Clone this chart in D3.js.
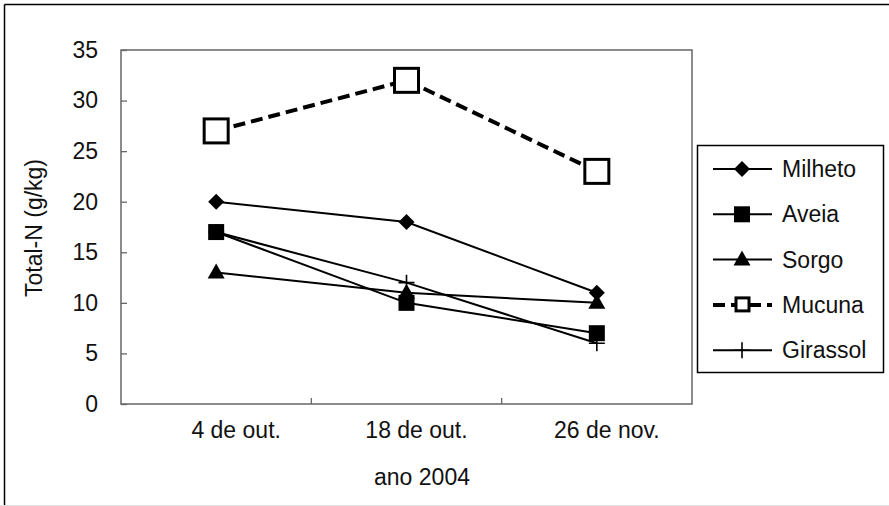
<!DOCTYPE html>
<html>
<head>
<meta charset="utf-8">
<script src="https://cdn.jsdelivr.net/npm/d3@7"></script>
<style>
  body { margin: 0; background: #fff; }
  svg { display: block; font-family: "Liberation Sans", Arial, sans-serif; }
</style>
</head>
<body>
<svg id="chart" width="889" height="506"></svg>
<script>
// dates of sampling (ano 2004)
var categories = ["4 de out.", "18 de out.", "26 de nov."];

// Total-N (g/kg) per cover crop
var milheto  = [20, 18, 11];
var aveia    = [17, 10, 7];
var sorgo    = [13, 11, 10];
var mucuna   = [27, 32, 23];
var girassol = [17, 12, 6];

var seriesNames = ["Milheto", "Aveia", "Sorgo", "Mucuna", "Girassol"];
var yTicks = [0, 5, 10, 15, 20, 25, 30, 35];

var series = [
  {name: seriesNames[0], values: milheto,  marker: "diamond"},
  {name: seriesNames[1], values: aveia,    marker: "square"},
  {name: seriesNames[2], values: sorgo,    marker: "triangle"},
  {name: seriesNames[3], values: mucuna,   marker: "open"},
  {name: seriesNames[4], values: girassol, marker: "plus"}
];

var fontSize = 23;
var plot = {left: 121, right: 692, top: 50, bottom: 404};

var svg = d3.select("#chart");

// outer chart frame (only top and left visible in the picture)
svg.append("rect").attr("width", 889).attr("height", 506).attr("fill", "#fff");
svg.append("line").attr("x1", 4.5).attr("x2", 889).attr("y1", 4.5).attr("y2", 4.5)
  .attr("stroke", "#000").attr("stroke-width", 1.5);
svg.append("line").attr("x1", 4.5).attr("x2", 4.5).attr("y1", 4.5).attr("y2", 506)
  .attr("stroke", "#000").attr("stroke-width", 1.5);
svg.append("line").attr("x1", 0).attr("x2", 889).attr("y1", 505.5).attr("y2", 505.5)
  .attr("stroke", "#e2e2e2").attr("stroke-width", 1);

var x = d3.scaleBand().domain(categories).range([plot.left, plot.right]).padding(0);
var y = d3.scaleLinear().domain([0, 35]).range([plot.bottom, plot.top]);

// plot area border
svg.append("rect")
  .attr("x", plot.left).attr("y", plot.top)
  .attr("width", plot.right - plot.left).attr("height", plot.bottom - plot.top)
  .attr("fill", "none").attr("stroke", "#666").attr("stroke-width", 1.5);

// y axis
var yAxis = svg.append("g")
  .attr("transform", "translate(" + plot.left + ",0)")
  .call(d3.axisLeft(y).tickValues(yTicks).tickSizeInner(-6).tickSizeOuter(0).tickPadding(23));
yAxis.select(".domain").remove();
yAxis.selectAll(".tick line").attr("stroke", "#666").attr("stroke-width", 1.3);
yAxis.selectAll(".tick text").attr("font-size", fontSize).attr("fill", "#111")
  .attr("font-family", "Liberation Sans, Arial, sans-serif");

// x axis labels
var xAxis = svg.append("g")
  .attr("transform", "translate(0," + plot.bottom + ")")
  .call(d3.axisBottom(x).tickSize(0).tickPadding(18));
xAxis.select(".domain").remove();
xAxis.selectAll(".tick text").attr("font-size", fontSize).attr("fill", "#111")
  .attr("font-family", "Liberation Sans, Arial, sans-serif")
  .attr("dx", function(d, i) { return i === 0 ? 20 : 10; });

// x ticks between categories, pointing up
svg.append("g").selectAll("line")
  .data(categories.slice(1))
  .enter().append("line")
  .attr("x1", function(d) { return x(d); })
  .attr("x2", function(d) { return x(d); })
  .attr("y1", plot.bottom).attr("y2", plot.bottom - 6)
  .attr("stroke", "#666").attr("stroke-width", 1.3);

// axis titles
svg.append("text")
  .attr("x", 422).attr("y", 485)
  .attr("text-anchor", "middle").attr("font-size", fontSize).attr("fill", "#111")
  .text("ano 2004");
svg.append("text")
  .attr("transform", "translate(42,228) rotate(-90)")
  .attr("text-anchor", "middle").attr("font-size", fontSize).attr("fill", "#111")
  .text("Total-N (g/kg)");

// marker drawing
function drawMarker(g, type, cx, cy) {
  if (type == "diamond") {
    g.append("path").attr("d", "M" + cx + "," + (cy - 8) + "L" + (cx + 8) + "," + cy +
      "L" + cx + "," + (cy + 8) + "L" + (cx - 8) + "," + cy + "Z").attr("fill", "#000");
  } else if (type == "square") {
    g.append("rect").attr("x", cx - 8).attr("y", cy - 8).attr("width", 16).attr("height", 16)
      .attr("fill", "#000");
  } else if (type == "triangle") {
    g.append("path").attr("d", "M" + cx + "," + (cy - 9) + "L" + (cx + 8.5) + "," + (cy + 6) +
      "L" + (cx - 8.5) + "," + (cy + 6) + "Z").attr("fill", "#000");
  } else if (type == "open") {
    g.append("rect").attr("x", cx - 12).attr("y", cy - 12).attr("width", 24).attr("height", 24)
      .attr("fill", "#fff").attr("stroke", "#000").attr("stroke-width", 3);
  } else if (type == "plus") {
    g.append("path").attr("d", "M" + (cx - 8) + "," + cy + "H" + (cx + 8) +
      "M" + cx + "," + (cy - 8) + "V" + (cy + 8))
      .attr("stroke", "#000").attr("stroke-width", 1.6).attr("fill", "none");
  }
}

var line = d3.line()
  .x(function(d, i) { return x(categories[i]) + x.bandwidth() / 2; })
  .y(function(d) { return y(d); });

series.forEach(function(s) {
  var g = svg.append("g");
  var dashed = s.marker == "open";
  g.append("path")
    .attr("d", line(s.values))
    .attr("fill", "none")
    .attr("stroke", "#000")
    .attr("stroke-width", dashed ? 4 : 2)
    .attr("stroke-dasharray", dashed ? "12,6" : null);
  s.values.forEach(function(v, i) {
    drawMarker(g, s.marker, x(categories[i]) + x.bandwidth() / 2, y(v));
  });
});

// legend
var legend = svg.append("g");
legend.append("rect")
  .attr("x", 697.5).attr("y", 145.5).attr("width", 186).attr("height", 227)
  .attr("fill", "#fff").attr("stroke", "#000").attr("stroke-width", 1.5);

series.forEach(function(s, i) {
  var ly = 169 + i * 45.3;
  var dashed = s.marker == "open";
  legend.append("line")
    .attr("x1", 713).attr("x2", 772).attr("y1", ly).attr("y2", ly)
    .attr("stroke", "#000")
    .attr("stroke-width", dashed ? 4 : 2)
    .attr("stroke-dasharray", dashed ? "12,6" : null);
  drawMarker(legend, s.marker == "open" ? "openSmall" : s.marker, 742, ly);
  if (s.marker == "open") {
    legend.append("rect").attr("x", 736).attr("y", ly - 7).attr("width", 13).attr("height", 13)
      .attr("fill", "#fff").attr("stroke", "#000").attr("stroke-width", 3);
  }
  legend.append("text")
    .attr("x", 782).attr("y", ly)
    .attr("dy", "0.35em")
    .attr("font-size", fontSize).attr("fill", "#111")
    .text(s.name);
});
</script>
</body>
</html>
